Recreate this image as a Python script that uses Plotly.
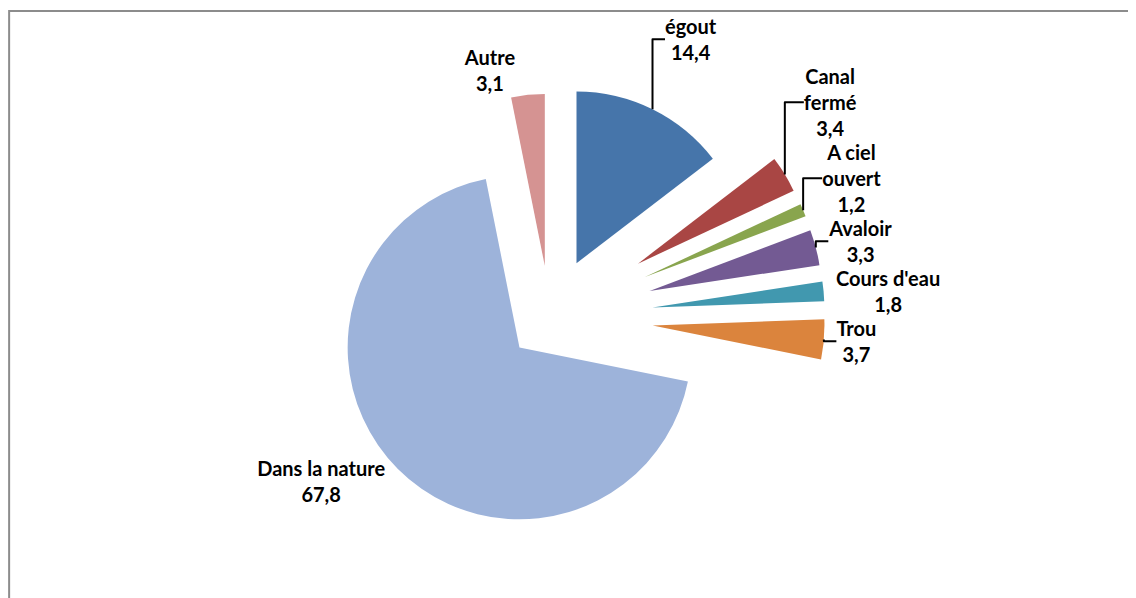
import plotly.graph_objects as go

# Repartition (%) - sens horaire depuis midi
categories = ["égout", "Canal fermé", "A ciel ouvert", "Avaloir",
              "Cours d'eau", "Trou", "Dans la nature", "Autre"]
display_names = ["égout", "Canal<br>fermé", "A ciel<br>ouvert", "Avaloir",
                 "Cours d'eau", "Trou", "Dans la nature", "Autre"]
values = [14.4, 3.4, 1.2, 3.3, 1.8, 3.7, 67.8, 3.1]

colors = ["#4675AA", "#A94644", "#89A54E", "#735A93",
          "#4198AF", "#DB843D", "#9DB3DA", "#D59392"]
pulls = [0.35, 0.6, 0.6, 0.6, 0.6, 0.6, 0.25, 0.3]

fig = go.Figure(go.Pie(
    labels=categories,
    values=values,
    text=display_names,
    texttemplate="<b>%{text}<br>%{value:.1f}</b>",
    textposition="outside",
    sort=False,
    direction="clockwise",
    rotation=0,
    pull=pulls,
    automargin=False,
    marker=dict(colors=colors, line=dict(width=0)),
    outsidetextfont=dict(family="Lato", size=20, color="#000000"),
    domain=dict(x=[0.235, 0.719], y=[0.023, 0.943]),
    showlegend=False,
    hoverinfo="label+value",
))

# cadre gris du graphique
fig.add_shape(type="rect", xref="paper", yref="paper",
              x0=0.001, x1=1.01, y0=-0.02, y1=0.995,
              line=dict(color="#8C8C8C", width=2), fillcolor="rgba(0,0,0,0)")

fig.update_layout(
    width=1136, height=598,
    margin=dict(l=0, r=0, t=0, b=0, autoexpand=False),
    paper_bgcolor="white",
    plot_bgcolor="white",
    separators=", ",
    font=dict(family="Lato"),
)

fig.write_html("out.html")
